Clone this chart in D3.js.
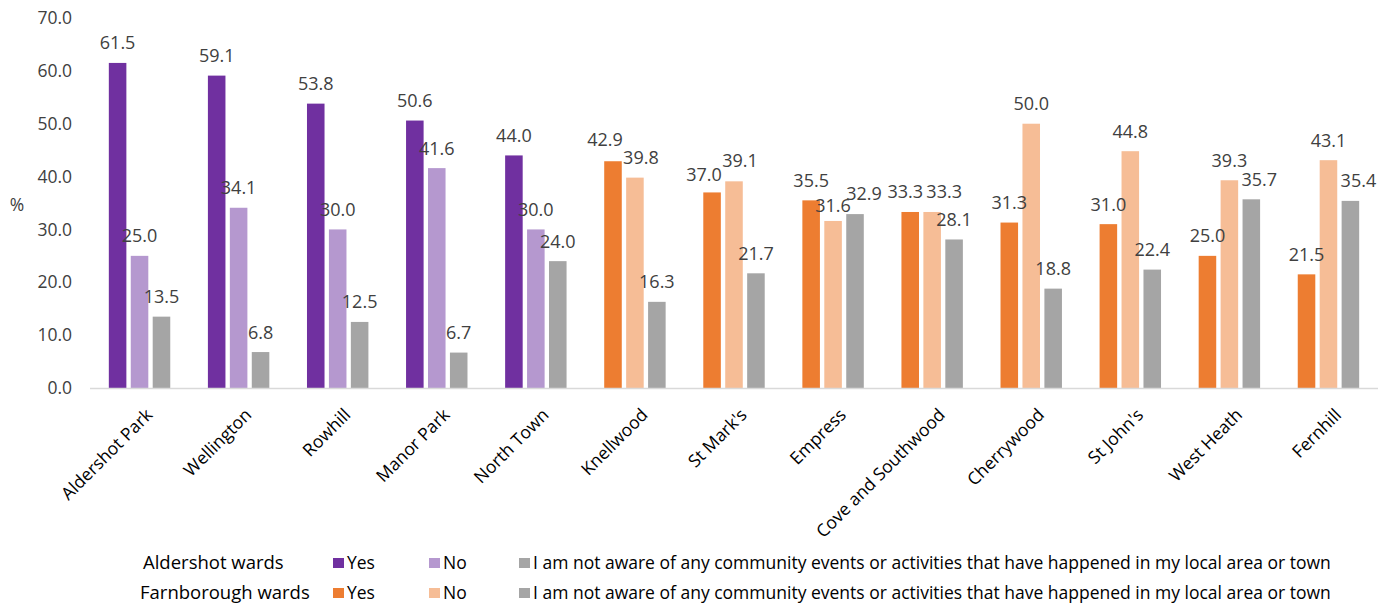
<!DOCTYPE html>
<html><head><meta charset="utf-8">
<script src="https://cdn.jsdelivr.net/npm/d3@7"></script>
<style>
html,body{margin:0;padding:0;background:#fff;}
svg{display:block;font-family:"Open Sans",sans-serif;}
</style></head>
<body>
<svg id="chart" width="1396" height="606"></svg>
<script>
const categories = ["Aldershot Park","Wellington","Rowhill","Manor Park","North Town","Knellwood","St Mark's","Empress","Cove and Southwood","Cherrywood","St John's","West Heath","Fernhill"];
const groups = ["Aldershot","Aldershot","Aldershot","Aldershot","Aldershot","Farnborough","Farnborough","Farnborough","Farnborough","Farnborough","Farnborough","Farnborough","Farnborough"];
const yesValues = [61.5,59.1,53.8,50.6,44.0,42.9,37.0,35.5,33.3,31.3,31.0,25.0,21.5];
const noValues = [25.0,34.1,30.0,41.6,30.0,39.8,39.1,31.6,33.3,50.0,44.8,39.3,43.1];
const notAwareValues = [13.5,6.8,12.5,6.7,24.0,16.3,21.7,32.9,28.1,18.8,22.4,35.7,35.4];
const yTicks = [0,10,20,30,40,50,60,70];
const seriesKeys = ["yes","no","notAware"];
const legendRows = ["Aldershot wards","Farnborough wards"];
const legendLabels = ["Yes","No","I am not aware of any community events or activities that have happened in my local area or town"];

const colors = {
  Aldershot: {yes:"#7030A0", no:"#B598CF", notAware:"#A5A5A5"},
  Farnborough: {yes:"#ED7D31", no:"#F6BD96", notAware:"#A5A5A5"}
};

const data = categories.map((c,i)=>({cat:c, group:groups[i], yes:yesValues[i], no:noValues[i], notAware:notAwareValues[i]}));

const svg = d3.select("#chart");
const x0 = d3.scaleBand().domain(categories).range([90,1378]).paddingInner(0.38).paddingOuter(0.19);
const x1 = d3.scaleBand().domain(seriesKeys).range([0,x0.bandwidth()]).paddingInner(0.2).paddingOuter(0);
const y = d3.scaleLinear().domain([0,70]).range([388,18]);

// y tick labels
svg.append("g").selectAll("text").data(yTicks).join("text")
  .attr("x",72).attr("y",d=>y(d)).attr("dy","0.35em")
  .attr("text-anchor","end").attr("font-size",17.5).attr("fill","#404040")
  .text(d=>d3.format(".1f")(d));

svg.append("text").attr("x",17).attr("y",205).attr("dy","0.35em")
  .attr("text-anchor","middle").attr("font-size",17.5).attr("fill","#404040").text("%");

// bars
const g = svg.append("g").selectAll("g").data(data).join("g")
  .attr("transform",d=>`translate(${x0(d.cat)},0)`);
g.selectAll("rect").data(d=>seriesKeys.map(k=>({k, v:d[k], group:d.group, cat:d.cat}))).join("rect")
  .attr("x",d=>x1(d.k)).attr("width",x1.bandwidth())
  .attr("y",d=>y(d.v)).attr("height",d=>y(0)-y(d.v))
  .attr("fill",d=>colors[d.group][d.k]);

// label nudges (overlap avoidance, as in original)
const nudge = {
  "Knellwood|yes":[-8,-2], "Knellwood|no":[6,0],
  "St Mark's|yes":[-8,2], "St Mark's|no":[6,-1],
  "Empress|no":[0,5], "Empress|notAware":[9,-1],
  "Cove and Southwood|yes":[-5,0], "Cove and Southwood|no":[12,0],
  "West Heath|notAware":[8,0], "Fernhill|notAware":[8,0]
};
const nd = d => nudge[d.cat+"|"+d.k] || [0,0];
g.selectAll("text").data(d=>seriesKeys.map(k=>({k, v:d[k], cat:d.cat}))).join("text")
  .attr("x",d=>x1(d.k)+x1.bandwidth()/2 + nd(d)[0])
  .attr("y",d=>y(d.v)-13.5 + nd(d)[1])
  .attr("text-anchor","middle").attr("font-size",18).attr("fill","#404040")
  .text(d=>d3.format(".1f")(d.v));

// axis line
svg.append("line").attr("x1",90).attr("x2",1378).attr("y1",y(0)+0.5).attr("y2",y(0)+0.5)
  .attr("stroke","#D9D9D9").attr("stroke-width",1.5);

// x labels
svg.append("g").selectAll("text").data(categories).join("text")
  .attr("transform",d=>`translate(${x0(d)+x0.bandwidth()/2+14},${y(0)+28}) rotate(-45)`)
  .attr("text-anchor","end").attr("font-size",17.5).attr("fill","#000")
  .text(d=>d);

// legend
const legendY = [563,593];
const groupNames = ["Aldershot","Farnborough"];
const itemX = [333,429,519];
legendRows.forEach((row,ri)=>{
  const ly = legendY[ri];
  svg.append("text").attr("x",ri===0?143:140).attr("y",ly).attr("dy","0.35em")
    .attr("font-size",18.5).attr("fill","#000").text(row);
  seriesKeys.forEach((k,ki)=>{
    svg.append("rect").attr("x",itemX[ki]).attr("y",ly-5).attr("width",11).attr("height",10)
      .attr("fill",colors[groupNames[ri]][k]);
    svg.append("text").attr("x",itemX[ki]+14).attr("y",ly).attr("dy","0.35em")
      .attr("font-size",17.5).attr("fill","#000").text(legendLabels[ki]);
  });
});
</script>
</body></html>
